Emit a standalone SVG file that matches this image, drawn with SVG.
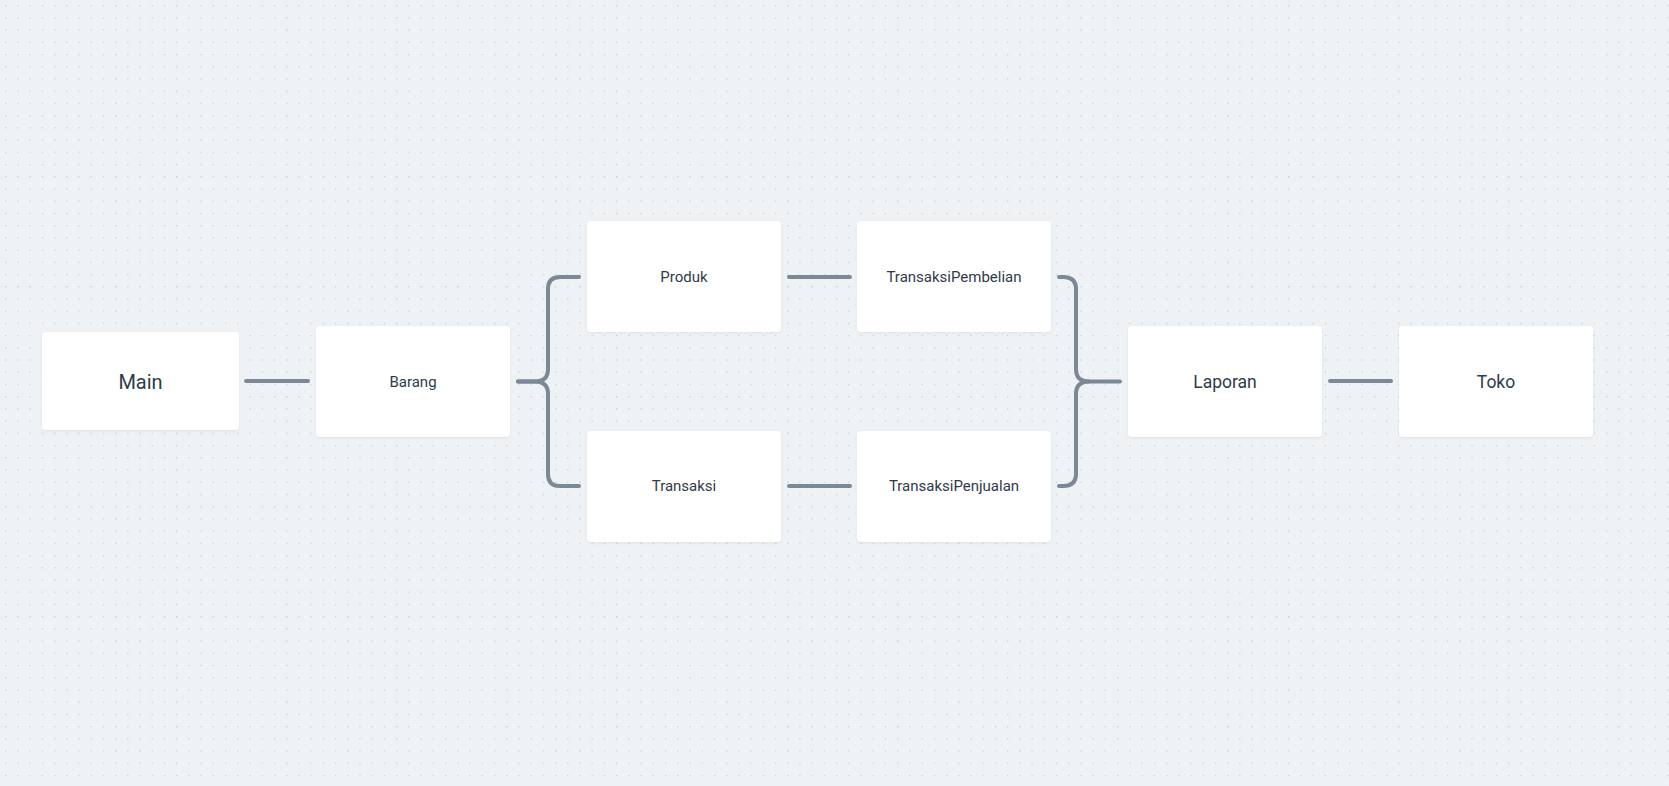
<svg xmlns="http://www.w3.org/2000/svg" width="1669" height="786" viewBox="0 0 1669 786">
<defs>
<pattern id="dots" x="5" y="5" width="12.22" height="12.22" patternUnits="userSpaceOnUse">
<rect x="0" y="0" width="1.3" height="1.3" fill="#c3cad3"/>
</pattern>
<filter id="sh" x="-5%" y="-5%" width="110%" height="115%">
<feDropShadow dx="0" dy="1" stdDeviation="1" flood-color="#8a97a6" flood-opacity="0.18"/>
</filter>
</defs>
<style>
.box{fill:#ffffff;filter:url(#sh)}
.lbl{font-family:Roboto,"Liberation Sans",sans-serif;fill:#2f3b4a;text-anchor:middle;dominant-baseline:central}
.s{font-size:15px}
.m{font-size:17.5px}
.l{font-size:20px}
.c{fill:none;stroke:#7b8896;stroke-width:4;stroke-linecap:round;stroke-linejoin:round}
</style>
<rect width="1669" height="786" fill="#eff2f5"/>
<rect width="1669" height="786" fill="url(#dots)"/>
<g id="connectors">
<path class="c" d="M246,381 H308"/>
<path class="c" d="M518,381.5 H535 Q548,381.5 548,369 V289 Q548,277 560,277 H579"/>
<path class="c" d="M518,381.5 H535 Q548,381.5 548,394 V474 Q548,486 560,486 H579"/>
<path class="c" d="M789,277 H850"/>
<path class="c" d="M789,486 H850"/>
<path class="c" d="M1059,277 H1063 Q1076,277 1076,289 V369 Q1076,381.5 1089,381.5 H1120"/>
<path class="c" d="M1059,486 H1063 Q1076,486 1076,474 V394 Q1076,381.5 1089,381.5"/>
<path class="c" d="M1330,381 H1391"/>
</g>
<g id="node-main"><rect class="box" x="42" y="332" width="197" height="98" rx="4"/><text class="lbl l" x="140.5" y="381.5">Main</text></g>
<g id="node-barang"><rect class="box" x="316" y="326" width="194" height="111" rx="4"/><text class="lbl s" x="413" y="381.5">Barang</text></g>
<g id="node-produk"><rect class="box" x="587" y="221" width="194" height="111" rx="4"/><text class="lbl s" x="684" y="277">Produk</text></g>
<g id="node-transaksi"><rect class="box" x="587" y="431" width="194" height="111" rx="4"/><text class="lbl s" x="684" y="486">Transaksi</text></g>
<g id="node-transaksipembelian"><rect class="box" x="857" y="221" width="194" height="111" rx="4"/><text class="lbl s" x="954" y="277">TransaksiPembelian</text></g>
<g id="node-transaksipenjualan"><rect class="box" x="857" y="431" width="194" height="111" rx="4"/><text class="lbl s" x="954" y="486">TransaksiPenjualan</text></g>
<g id="node-laporan"><rect class="box" x="1128" y="326" width="194" height="111" rx="4"/><text class="lbl m" x="1225" y="381.5">Laporan</text></g>
<g id="node-toko"><rect class="box" x="1399" y="326" width="194" height="111" rx="4"/><text class="lbl m" x="1496" y="381.5">Toko</text></g>
</svg>
